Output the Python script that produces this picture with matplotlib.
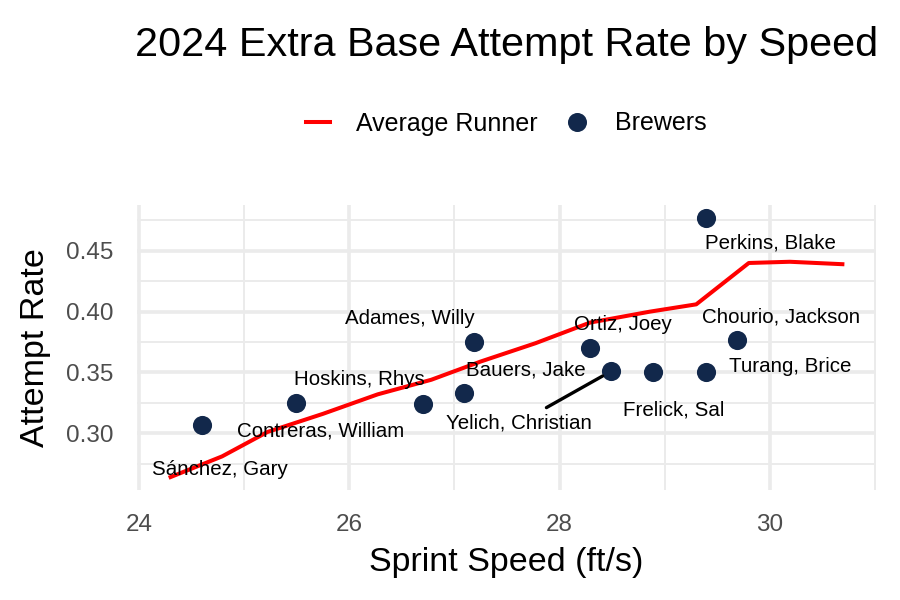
import matplotlib
matplotlib.use("Agg")
import matplotlib.pyplot as plt
from matplotlib.lines import Line2D
from matplotlib.ticker import MultipleLocator

plt.rcParams["font.family"] = ["Liberation Sans", "DejaVu Sans"]

# average runner curve (binned sprint speed vs attempt rate)
avg_speed = [24.30, 24.79, 25.22, 25.75, 26.27, 26.78, 27.25, 27.77, 28.29, 28.86, 29.30, 29.80, 30.19, 30.69]
avg_rate = [0.264, 0.281, 0.301, 0.316, 0.332, 0.344, 0.359, 0.374, 0.391, 0.400, 0.406, 0.440, 0.441, 0.439]

# Brewers players
players = ["Sánchez, Gary", "Contreras, William", "Hoskins, Rhys", "Bauers, Jake", "Adames, Willy",
           "Ortiz, Joey", "Yelich, Christian", "Frelick, Sal", "Perkins, Blake", "Chourio, Jackson",
           "Turang, Brice"]
speed = [24.60, 25.49, 26.70, 27.09, 27.19, 28.29, 28.49, 28.89, 29.39, 29.69, 29.39]
rate = [0.307, 0.325, 0.324, 0.333, 0.375, 0.370, 0.351, 0.350, 0.477, 0.377, 0.350]

# label positions (repelled)
label_x = [24.77, 25.73, 26.10, 27.68, 26.58, 28.60, 27.61, 29.09, 30.01, 30.11, 30.19]
label_y = [0.2704, 0.3019, 0.3438, 0.3521, 0.3940, 0.3891, 0.3082, 0.3192, 0.4567, 0.3959, 0.3553]
use_segment = [False, False, False, False, False, False, True, False, False, False, False]

navy = "#12284B"
grid_col = "#EBEBEB"

fig = plt.figure(figsize=(9, 6), dpi=100)
ax = fig.add_axes([0.1522, 0.1833, 0.8211, 0.475])

ax.plot(avg_speed, avg_rate, color="red", lw=2.9, zorder=3)
ax.scatter(speed, rate, s=190, color=navy, zorder=4, linewidths=0)

for i, name in enumerate(players):
    props = None
    if use_segment[i]:
        props = dict(arrowstyle="-", color="black", lw=2.4, shrinkA=5, shrinkB=7)
    ax.annotate(name, xy=(speed[i], rate[i]), xytext=(label_x[i], label_y[i]),
                ha="center", va="center", fontsize=14.8, color="black",
                arrowprops=props, zorder=5)

# ggplot-like expansion of 5%
all_x = avg_speed + speed
all_y = avg_rate + rate
xr = max(all_x) - min(all_x)
yr = max(all_y) - min(all_y)
ax.set_xlim(min(all_x) - 0.05 * xr, max(all_x) + 0.05 * xr)
ax.set_ylim(min(all_y) - 0.05 * yr, max(all_y) + 0.05 * yr)

ax.xaxis.set_major_locator(MultipleLocator(2))
ax.xaxis.set_minor_locator(MultipleLocator(1))
ax.yaxis.set_major_locator(MultipleLocator(0.05))
ax.yaxis.set_minor_locator(MultipleLocator(0.025))
ax.yaxis.set_major_formatter(lambda v, p: f"{v:.2f}")

ax.grid(which="major", color=grid_col, lw=2.6)
ax.grid(which="minor", color=grid_col, lw=1.4)
ax.set_axisbelow(True)
for s in ax.spines.values():
    s.set_visible(False)
ax.tick_params(which="both", length=0)
ax.tick_params(axis="x", labelsize=17.5, labelcolor="#4D4D4D", pad=17)
ax.tick_params(axis="y", labelsize=17.5, labelcolor="#4D4D4D", pad=17)

ax.set_xlabel("Sprint Speed (ft/s)", fontsize=24.5, labelpad=8.5)
ax.set_ylabel("Attempt Rate", fontsize=24.5, labelpad=11)

fig.text(0.1522 + 0.8211 / 2, 1 - 55.5 / 600, "2024 Extra Base Attempt Rate by Speed",
         ha="center", va="baseline", fontsize=29.8)

handles = [Line2D([], [], color="red", lw=2.9),
           Line2D([], [], marker="o", ls="", color=navy, markersize=13.7, markeredgewidth=0)]
fig.legend(handles, ["Average Runner", "Brewers"], loc="center", ncol=2,
           bbox_to_anchor=(0.1522 + 0.8211 / 2, 1 - 123.5 / 600), frameon=False,
           fontsize=18, handlelength=0.96, handletextpad=1.04, columnspacing=1.07)

fig.savefig("out.png", dpi=100)
